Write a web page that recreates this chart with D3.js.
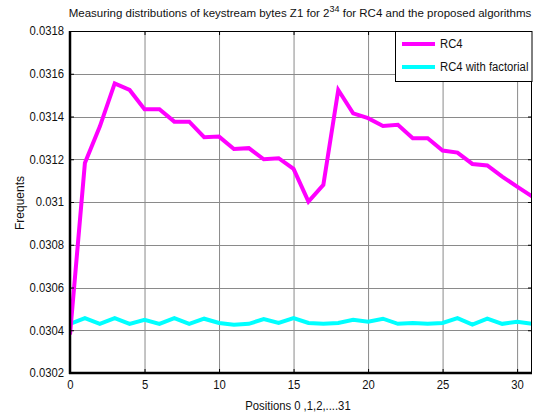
<!DOCTYPE html>
<html><head><meta charset="utf-8">
<script src="https://cdn.jsdelivr.net/npm/d3@7"></script>
<style>body{margin:0;background:#fff}svg{display:block;font-family:"Liberation Sans",Arial,sans-serif}</style>
</head><body>
<script>
const positions = d3.range(0, 32);
const rc4 = [0.03038,0.031182,0.031353,0.031555,0.031524,0.031434,0.031434,0.031376,0.031376,0.031303,0.031306,0.031248,0.031252,0.0312,0.031205,0.031155,0.031002,0.03108,0.031524,0.031415,0.031392,0.031356,0.031361,0.031298,0.031298,0.031241,0.031231,0.031178,0.031171,0.031119,0.031072,0.031026];
const rc4Factorial = [0.03043,0.030457,0.03043,0.030457,0.03043,0.030449,0.03043,0.030457,0.03043,0.030454,0.030434,0.030426,0.03043,0.030452,0.030434,0.030457,0.030434,0.03043,0.030434,0.030449,0.03044,0.030454,0.03043,0.030434,0.03043,0.030434,0.030457,0.030426,0.030454,0.03043,0.03044,0.03043];
const yTicks = [0.0302,0.0304,0.0306,0.0308,0.031,0.0312,0.0314,0.0316,0.0318];
const yTickLabels = ["0.0302","0.0304","0.0306","0.0308","0.031","0.0312","0.0314","0.0316","0.0318"];
const xTicks = [0,5,10,15,20,25,30];
const seriesNames = ["RC4","RC4 with factorial"];
const seriesColors = ["#ff00ff","#00ffff"];

const W=534,H=417, L=70, R=532, T=31, B=373;
const svg = d3.select("body").append("svg").attr("width",W).attr("height",H);
const x = d3.scaleLinear().domain([0,31]).range([L,R]);
const y = d3.scaleLinear().domain([0.0302,0.0318]).range([B,T]);

function squeeze(sel){ sel.each(function(){ const n=this.getComputedTextLength(); if(n>0){ this.setAttribute("textLength", n*0.94); this.setAttribute("lengthAdjust","spacingAndGlyphs"); } }); }

// grid
const g = svg.append("g");
g.selectAll(".gx").data(xTicks.filter(d=>d>0)).join("line")
  .attr("x1",d=>x(d)+0.5).attr("x2",d=>x(d)+0.5).attr("y1",T).attr("y2",B)
  .attr("stroke","#8a8a8a").attr("stroke-width",1);
g.selectAll(".gy").data(yTicks.filter(d=>d>0.0302 && d<0.0318)).join("line")
  .attr("y1",d=>Math.round(y(d))+0.5).attr("y2",d=>Math.round(y(d))+0.5).attr("x1",L).attr("x2",R)
  .attr("stroke","#8a8a8a").attr("stroke-width",1);

// lines
const line = d3.line().x((d,i)=>x(positions[i])).y(d=>y(d));
svg.append("clipPath").attr("id","c").append("rect").attr("x",L).attr("y",T).attr("width",R-L).attr("height",B-T);
[rc4Factorial, rc4].forEach((s,k)=>{
  const idx = k===0?1:0;
  svg.append("path").datum(s).attr("d",line).attr("fill","none")
    .attr("stroke",seriesColors[idx]).attr("stroke-width",4).attr("stroke-linejoin","miter")
    .attr("clip-path","url(#c)");
});

// axes
const yAxis = d3.axisLeft(y).tickValues(yTicks).tickFormat((d,i)=>yTickLabels[i]).tickSize(-4).tickPadding(6);
const ya = svg.append("g").attr("transform",`translate(${L},0)`).call(yAxis);
const yR = svg.append("g").attr("transform",`translate(${R},0)`).call(d3.axisRight(y).tickValues(yTicks).tickFormat("").tickSize(-4));
const xAxis = d3.axisBottom(x).tickValues(xTicks).tickSize(-4).tickPadding(7);
const xa = svg.append("g").attr("transform",`translate(0,${B})`).call(xAxis);
const xT = svg.append("g").attr("transform",`translate(0,${T})`).call(d3.axisTop(x).tickValues(xTicks).tickFormat("").tickSize(-4));
[ya,yR,xa,xT].forEach(a=>{a.select(".domain").remove();a.selectAll("line").attr("stroke","#000");a.selectAll("text").attr("font-size",12).attr("font-family","Liberation Sans, Arial, sans-serif").attr("fill","#111");});
squeeze(ya.selectAll("text")); squeeze(xa.selectAll("text"));
// frame
svg.append("rect").attr("x",L).attr("y",T+0.5).attr("width",R-L-0.5).attr("height",B-T-0.5).attr("fill","none").attr("stroke","#000").attr("stroke-width",1);
svg.append("line").attr("x1",L).attr("x2",L).attr("y1",T).attr("y2",B+1).attr("stroke","#000").attr("stroke-width",2.5);
svg.append("line").attr("x1",L-1).attr("x2",R).attr("y1",B).attr("y2",B).attr("stroke","#000").attr("stroke-width",2.5);

// legend
const lg = svg.append("g");
lg.append("rect").attr("x",395.5).attr("y",T+0.5).attr("width",R-395.5).attr("height",50).attr("fill","#fff").attr("stroke","#000");
seriesNames.forEach((n,i)=>{
  const yy = 44 + i*23;
  lg.append("line").attr("x1",402).attr("x2",435).attr("y1",yy).attr("y2",yy).attr("stroke",seriesColors[i]).attr("stroke-width",4);
  squeeze(lg.append("text").attr("x",440).attr("y",yy+4).attr("font-size",12).attr("fill","#111").text(n));
});

// title
const t = svg.append("text").attr("x",300).attr("y",17).attr("text-anchor","middle").attr("font-size",11.5).attr("fill","#111");
t.append("tspan").text("Measuring distributions of keystream bytes Z1 for 2");
t.append("tspan").attr("dy",-5).attr("font-size",9).text("34");
t.append("tspan").attr("dy",5).text(" for RC4 and the proposed algorithms");

// axis labels
squeeze(svg.append("text").attr("x",298).attr("y",410).attr("text-anchor","middle").attr("font-size",12).attr("fill","#111").text("Positions 0 ,1,2,....31"));
svg.append("text").attr("transform","translate(24,203) rotate(-90)").attr("text-anchor","middle").attr("font-size",12).attr("fill","#111").text("Frequents");
</script>
</body></html>
